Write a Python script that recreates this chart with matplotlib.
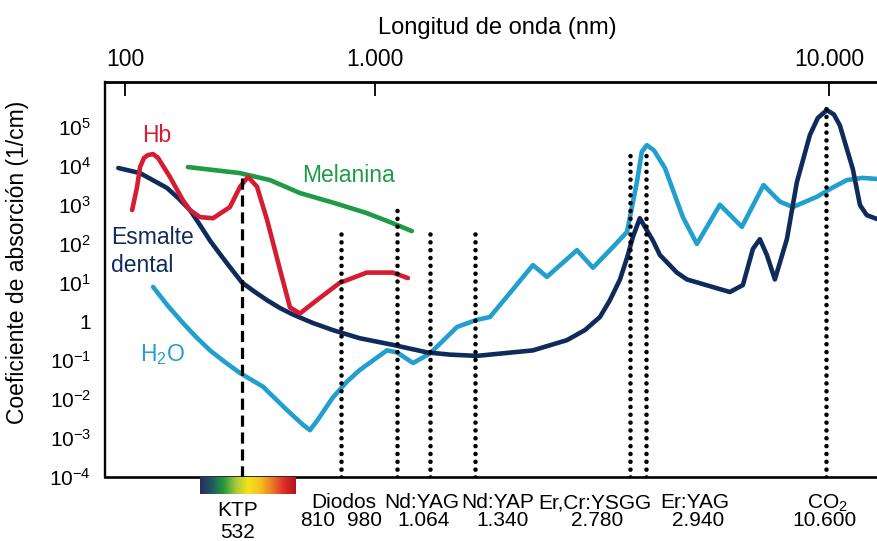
import numpy as np
import matplotlib
matplotlib.use("Agg")
import matplotlib.pyplot as plt
from matplotlib.colors import LinearSegmentedColormap
from matplotlib.ticker import NullLocator

plt.rcParams['font.family'] = ['Liberation Sans', 'DejaVu Sans']
plt.rcParams['mathtext.default'] = 'regular'

# absorption curves: wavelength (nm) and coefficient (1/cm)
esmalte_nm = [90, 134, 219, 268, 333, 400, 428, 458, 490, 532, 569, 606, 648, 693, 741, 789,
              863, 966, 1056, 1179, 1352, 1760, 2066, 2249, 2413, 2529, 2652, 2741, 2809, 2877,
              3088, 3246, 3664, 3935, 5344, 5863, 6297, 6617, 6956, 7364, 8021, 8614, 9450,
              10000, 10630, 10880, 11100, 11590, 11870, 12140, 12560]
esmalte_k = [8.8e3, 6.5e3, 2.7e3, 1.5e3, 730, 300, 120, 54, 25, 10, 5.7, 3.5, 2.2, 1.5, 0.91, 0.60,
             0.37, 0.25, 0.16, 0.14, 0.13, 0.18, 0.33, 0.60, 1.3, 3.5, 12, 43, 150, 450,
             120, 51, 18, 12, 5.7, 8.6, 73, 130, 51, 12, 130, 3.8e3, 6.2e4,
             1.7e5, 2.7e5, 2.1e5, 1.1e5, 8.3e3, 980, 540, 430]

hb_nm = [116, 127, 134, 144, 155, 170, 186, 231, 293, 333, 400, 437, 490, 525, 549, 575, 606,
         648, 682, 711, 750, 806, 884, 966, 1007]
hb_k = [730, 2.9e3, 9.3e3, 1.6e4, 1.9e4, 2.0e4, 1.6e4, 5.2e3, 1.3e3, 730, 480, 450, 870, 2.9e3,
        5.2e3, 2.9e3, 400, 21, 2.3, 1.6, 3.5, 9.7, 18, 18, 13]

melanina_nm = [321, 525, 615, 711, 794, 884, 956, 1017]
melanina_k = [9.3e3, 6.5e3, 4.3e3, 2.0e3, 1.1e3, 610, 360, 210]

h2o_nm = [170, 223, 293, 372, 428, 474, 525, 593, 671, 718, 734, 752, 789, 826, 863, 947, 980,
          1020, 1064, 1222, 1352, 1438, 1580, 1760, 1880, 2166, 2335, 2566, 2741, 2848, 2897,
          2959, 3111, 3364, 3823, 4225, 4977, 5821, 6792, 7630, 8372, 9931, 10810, 11360,
          11950, 12560]
h2o_k = [7.7, 2.5, 0.91, 0.40, 0.18, 0.090, 0.047, 0.021, 0.0053, 0.0022, 0.0016, 0.0029, 0.011,
         0.028, 0.056, 0.18, 0.16, 0.085, 0.15, 0.72, 1.1, 1.3, 5.4, 28, 14, 68, 24, 82, 200,
         3.8e3, 2.3e4, 3.4e4, 2.5e4, 8.8e3, 480, 98, 1.0e3, 270, 3.2e3, 1.2e3, 870, 1.6e3,
         2.7e3, 4.3e3, 4.9e3, 4.6e3]

# laser lines
laser_nm = [532, 810, 980, 1064, 1340, 2780, 2940, 10600]
laser_top = [4.8e3, 270, 1.1e3, 270, 270, 2.5e4, 1.9e4, 4.4e5]
laser_names = ['KTP', 'Diodos', 'Nd:YAG', 'Nd:YAP', 'Er,Cr:YSGG', 'Er:YAG', 'CO$_2$']
laser_values = ['532', '810', '980', '1.064', '1.340', '2.780', '2.940', '10.600']

yticks = [1e-4, 1e-3, 1e-2, 1e-1, 1, 1e1, 1e2, 1e3, 1e4, 1e5]
ytick_labels = ['$10^{-4}$', '$10^{-3}$', '$10^{-2}$', '$10^{-1}$', '1',
                '$10^{1}$', '$10^{2}$', '$10^{3}$', '$10^{4}$', '$10^{5}$']
top_ticks = [100, 1000, 10000]
top_labels = ['100', '1.000', '10.000']

# the original x axis is schematic, not a true log axis: piecewise log scales
main_scale_nm = [10, 100, 400, 532, 700, 810, 980, 1064, 1340, 2780, 2940, 10600, 100000]
main_scale_pos = [0, 124, 200, 242, 295, 341, 397, 430, 475, 630, 646, 826, 1500]
top_scale_nm = [10, 100, 1000, 10000, 100000]
top_scale_pos = [-125, 125, 375, 829, 1283]

spectrum = ['#2a2b62', '#1f5a62', '#2a9a3c', '#a9c93a', '#f4e31c', '#f5c21d',
            '#ec7a28', '#df2f2a', '#b3121e']


def make_scale(nm_pts, pos_pts):
    lg = np.log10(nm_pts)

    def forward(x):
        x = np.clip(np.asarray(x, dtype=float), 1e-6, None)
        return np.interp(np.log10(x), lg, pos_pts)

    def inverse(p):
        return 10.0 ** np.interp(np.asarray(p, dtype=float), pos_pts, lg)
    return forward, inverse


W, H = 877, 541
def fx(x):
    return x / W
def fy(y):
    return 1 - y / H

NAVY = '#0f2b5b'
LBLUE = '#21a0cf'
RED = '#d61c33'
GREEN = '#1f9a45'
LW = 3.3

fig = plt.figure(figsize=(W / 100, H / 100), dpi=100)
left, right, top, bottom = 105, 885, 82, 477
ax = fig.add_axes([fx(left), fy(bottom), (right - left) / W, (bottom - top) / H])

fwd, inv = make_scale(main_scale_nm, main_scale_pos)
ax.set_xscale('function', functions=(fwd, inv))
ax.set_xlim(inv(left), inv(right))
ax.set_yscale('log')
ax.set_ylim(1e-4, 1.43e6)

style = dict(lw=LW, solid_capstyle='round', solid_joinstyle='round')
ax.plot(h2o_nm, h2o_k, color=LBLUE, zorder=2, **style)
ax.plot(esmalte_nm, esmalte_k, color=NAVY, zorder=3, **style)
ax.plot(melanina_nm, melanina_k, color=GREEN, zorder=4, **style)
ax.plot(hb_nm, hb_k, color=RED, zorder=5, **style)

for i, (wl, yt) in enumerate(zip(laser_nm, laser_top)):
    if i == 0:
        ax.plot([wl, wl], [1e-4, yt], color='black', lw=2.3, dashes=(3.5, 1.8), zorder=6)
    else:
        ax.plot([wl, wl], [1e-4, yt], color='black', lw=3.3, dashes=(0.01, 1.7),
                dash_capstyle='round', zorder=6)

ax.set_xticks([])
ax.xaxis.set_minor_locator(NullLocator())
ax.set_yticks(yticks)
ax.set_yticklabels(ytick_labels)
ax.yaxis.set_minor_locator(NullLocator())
ax.tick_params(axis='y', length=0, pad=10, labelsize=15)
ax.spines['right'].set_visible(False)
ax.spines['top'].set_linewidth(2.0)
ax.spines['bottom'].set_linewidth(1.9)
ax.spines['left'].set_linewidth(1.7)

# top wavelength axis
ax2 = ax.twiny()
tfwd, tinv = make_scale(top_scale_nm, top_scale_pos)
ax2.set_xscale('function', functions=(tfwd, tinv))
ax2.set_xlim(tinv(left), tinv(right))
ax2.set_xticks(top_ticks)
ax2.set_xticklabels(top_labels)
ax2.xaxis.set_minor_locator(NullLocator())
ax2.tick_params(axis='x', direction='in', length=10, width=1.3, pad=8, labelsize=16.5)
for s in ax2.spines.values():
    s.set_visible(False)

# visible spectrum bar under the axis
cmap = LinearSegmentedColormap.from_list('spec', spectrum)
cax = ax.inset_axes([400, -17 / 395, 300, 17 / 395], transform=ax.get_xaxis_transform())
cax.imshow(np.linspace(0, 1, 256).reshape(1, -1), aspect='auto', cmap=cmap)
cax.set_axis_off()

# texts
fig.text(fx(497), fy(28), 'Longitud de onda (nm)', ha='center', va='center', fontsize=17)
fig.text(fx(18), fy(262), 'Coeficiente de absorción (1/cm)', rotation=90,
         ha='center', va='center', fontsize=16.5)
fig.text(fx(157), fy(135), 'Hb', color=RED, ha='center', va='center', fontsize=16.5)
fig.text(fx(348), fy(175), 'Melanina', color=GREEN, ha='center', va='center', fontsize=16.5)
fig.text(fx(111), fy(237), 'Esmalte', color=NAVY, ha='left', va='center', fontsize=16.5)
fig.text(fx(111), fy(265), 'dental', color=NAVY, ha='left', va='center', fontsize=16.5)
fig.text(fx(140), fy(355), 'H$_2$O', color=LBLUE, ha='left', va='center', fontsize=16.5)

name_x = [238, 344, 422, 498, 595, 695, 827]
name_y = [510, 503, 503, 503, 503, 503, 503]
value_x = [238, 318, 365, 424, 503, 597, 698, 825]
value_y = [532, 521, 521, 521, 521, 521, 521, 521]
for t, x, y in zip(laser_names, name_x, name_y):
    fig.text(fx(x), fy(y), t, ha='center', va='center', fontsize=15)
for t, x, y in zip(laser_values, value_x, value_y):
    fig.text(fx(x), fy(y), t, ha='center', va='center', fontsize=15)

fig.savefig('out.png', dpi=100)
